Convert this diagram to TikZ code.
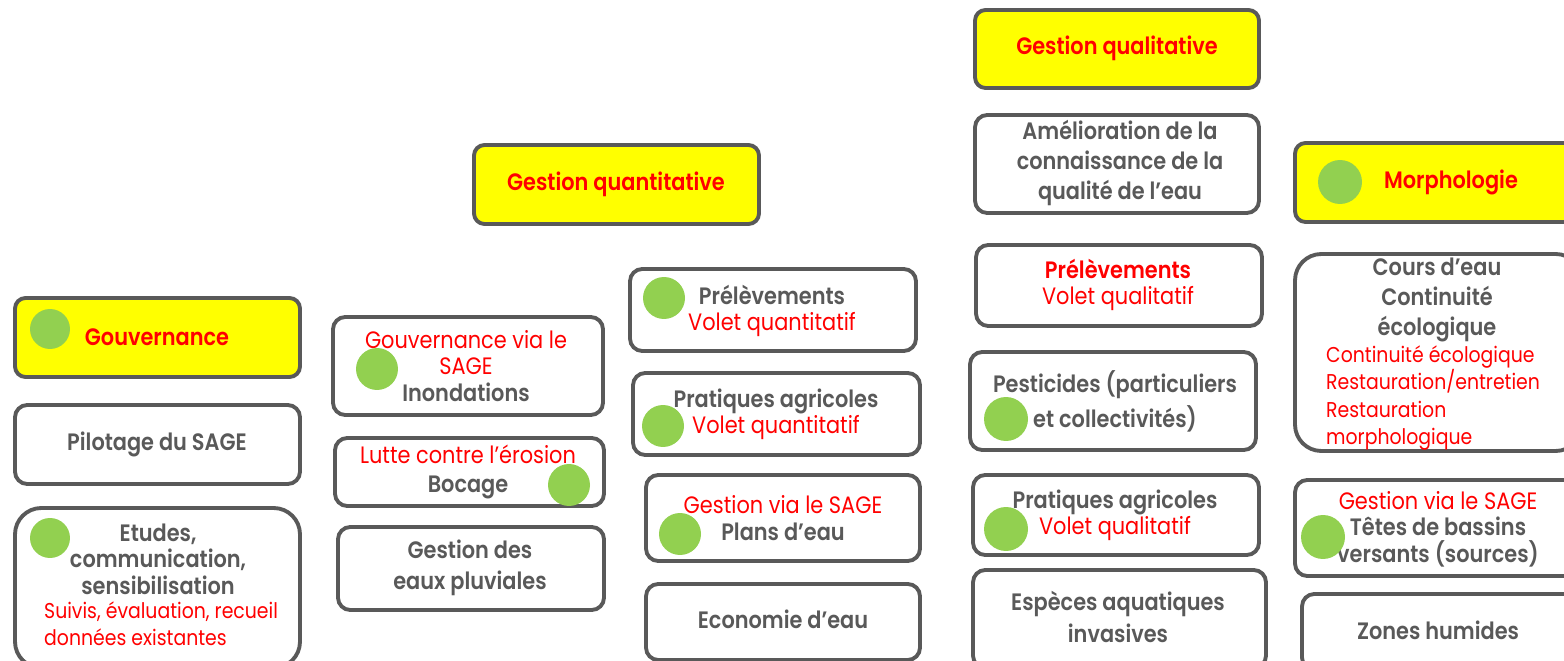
\documentclass[tikz,border=0pt]{standalone}
\usepackage{fontspec}
\setmainfont{Poppins}[FakeStretch=0.88,BoldFont={Poppins SemiBold}]
\usepackage{tikz}
\usetikzlibrary{fit}
\definecolor{edgegray}{HTML}{595959}
\definecolor{txtgray}{HTML}{595959}
\definecolor{dotgreen}{HTML}{92D050}
\definecolor{hired}{HTML}{FF0000}
\definecolor{headyellow}{HTML}{FFFF00}
\newcommand\redtx[1]{{\mdseries\color{hired}#1}}
\tikzset{
  box/.style={draw=edgegray,line width=2.2pt,fill=white,inner sep=0pt,rounded corners=7pt},
  head/.style={box,fill=headyellow,rounded corners=6pt},
  tall/.style={box,rounded corners=15pt},
  gr/.style={font=\fontsize{13.5}{15}\selectfont\bfseries,text=txtgray,align=center},
  hd/.style={font=\fontsize{13.5}{15}\selectfont\bfseries,text=hired,align=center},
  rdtx/.style={font=\fontsize{12.2}{15.4}\selectfont,text=hired,align=left},
  dot/.style={circle,fill=dotgreen,inner sep=0pt,minimum size=#1*0.04cm},
  dot/.default=21
}

\begin{document}
\begin{tikzpicture}[x=0.02cm,y=-0.02cm]
 \useasboundingbox (0,0) rectangle (1564,661);
 \foreach \n/\st/\xa/\ya/\xb/\yb in {
   gouv/head/15/298/300/377, pilot/box/15/405/300/484, etudes/tall/15/508/300/668,
   quanti/head/474/145/759/224, gouvsage/box/333/317/603/415, bocage/box/335/438/604/506,
   pluv/box/338/527/604/610, prelqt/box/630/269/916/351, pratqt/box/633/373/920/455,
   plans/box/646/475/920/561, econ/box/646/584/920/660, quali/head/975/10/1259/88,
   amelio/box/975/115/1259/213, prelql/box/976/245/1262/326, pest/box/970/352/1256/450,
   pratql/box/973/475/1259/555, especes/box/973/570/1266/668, morpho/head/1295/143/1582/222,
   cours/tall/1295/254/1582/451, tetes/box/1295/480/1582/576, zones/box/1302/594/1582/670} {
  \node[\st,fit={(\xa,\ya) (\xb,\yb)}] (\n) {};
 }
 \node[hd] (tgouv) at (157,337) {Gouvernance};
 \node[gr] (tpilot) at (157,444) {Pilotage du SAGE};
 \node[gr] (tetudes) at (158,559) {Etudes,\\communication,\\sensibilisation};
 \node[rdtx,anchor=west] (tsuivis) at (38,624) {Suivis, évaluation, recueil\\données existantes};
 \node[hd] (tquanti) at (616,184) {Gestion quantitative};
 \node[gr] (tgouvsage) at (466,366) {\redtx{Gouvernance via le}\\\redtx{SAGE}\\Inondations};
 \node[gr] (tbocage) at (468,472) {\redtx{Lutte contre l'érosion}\\[2pt]Bocage};
 \node[gr] (tpluv) at (470,568) {Gestion des\\[3pt]eaux pluviales};
 \node[gr] (tprelqt) at (772,311) {Prélèvements\\\redtx{Volet quantitatif}};
 \node[gr] (tpratqt) at (776,414) {Pratiques agricoles\\\redtx{Volet quantitatif}};
 \node[gr] (tplans) at (783,518) {\redtx{Gestion via le SAGE}\\Plans d'eau};
 \node[gr] (tecon) at (783,619) {Economie d'eau};
 \node[hd] (tquali) at (1117,48) {Gestion qualitative};
 \node[gr] (tamelio) at (1120,163) {Amélioration de la\\[2pt]connaissance de la\\[2pt]qualité de l'eau};
 \node[hd] (tprelql) at (1118,285) {Prélèvements\\\redtx{Volet qualitatif}};
 \node[gr] (tpest) at (1115,401) {Pesticides (particuliers\\[3pt]et collectivités)};
 \node[gr] (tpratql) at (1115,515) {Pratiques agricoles\\\redtx{Volet qualitatif}};
 \node[gr] (tespeces) at (1118,617) {Espèces aquatiques\\[3pt]invasives};
 \node[hd] (tmorpho) at (1451,182) {Morphologie};
 \node[gr] (tcours) at (1437,300) {Cours d'eau\\[2pt]Continuité\\[2pt]écologique};
 \node[rdtx,anchor=west] (tcontin) at (1320,398) {Continuité écologique\\Restauration/entretien\\Restauration\\morphologique};
 \node[gr] (ttetes) at (1438,529) {\redtx{Gestion via le SAGE}\\Têtes de bassins\\versants (sources)};
 \node[gr] (tzones) at (1438,630) {Zones humides};
 \foreach \n/\cx/\cy/\r in {gouv/50/329/20, etudes/50/538/20, gouvsage/377/369/21,
   bocage/569/485/21, prelqt/664/298/21, pratqt/663/426/21, plans/680/534/21,
   pest/1006/419/22, pratql/1006/529/22, morpho/1340/182/22, tetes/1323/537/22} {
  \node[dot=\r] (dot\n) at (\cx,\cy) {};
 }
\end{tikzpicture}
\end{document}
